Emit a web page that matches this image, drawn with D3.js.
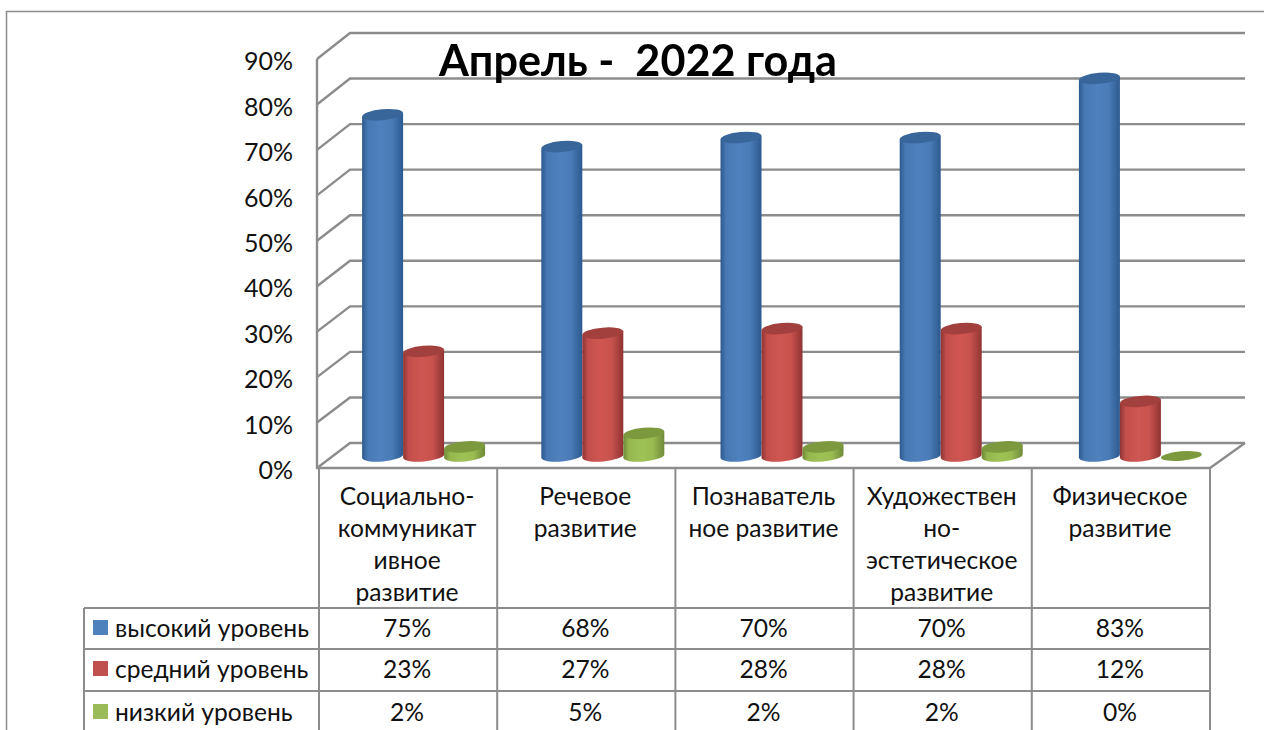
<!DOCTYPE html>
<html><head><meta charset="utf-8">
<script src="https://d3js.org/d3.v7.min.js"></script>
<style>html,body{margin:0;padding:0;background:#fff;overflow:hidden}
text{font-family:Lato,"Noto Sans",sans-serif;fill:#111}</style></head>
<body><div id="c"></div>
<script>
const titleText = "Апрель -  2022 года";
const categories = ["Социально-коммуникативное развитие","Речевое развитие","Познавательное развитие","Художественно-эстетическое развитие","Физическое развитие"];
const categoryLines = [["Социально-","коммуникат","ивное","развитие"],["Речевое","развитие"],["Познаватель","ное развитие"],["Художествен","но-","эстетическое","развитие"],["Физическое","развитие"]];
const seriesNames = ["высокий уровень","средний уровень","низкий уровень"];
const high = [75,68,70,70,83];
const mid = [23,27,28,28,12];
const low = [2,5,2,2,0];
const seriesValues = [high,mid,low];
const sideDark = ["#2c5a8f","#8f3432","#6f8a38"];
const sideLight = ["#4f81bd","#cf5652","#9fc255"];
const topFill = ["#37659a","#a23f3c","#7b9a3c"];
const legendFill = ["#4f81bd","#c0504d","#9bbb59"];
const ticks = [0,10,20,30,40,50,60,70,80,90];

const W=1264,H=730;
const svg=d3.select("#c").append("svg").attr("width",W).attr("height",H).style("display","block");
const defs=svg.append("defs");
defs.append("filter").attr("id","soft").attr("x","-5%").attr("y","-5%").attr("width","110%").attr("height","110%")
  .append("feGaussianBlur").attr("stdDeviation",0.6);
seriesNames.forEach((s,i)=>{
  const g=defs.append("linearGradient").attr("id","g"+i);
  [[0,sideDark[i]],[0.14,d3.interpolateRgb(sideDark[i],sideLight[i])(0.8)],[0.45,sideLight[i]],[0.72,d3.interpolateRgb(sideDark[i],sideLight[i])(0.88)],[1,sideDark[i]]]
   .forEach(([o,c])=>g.append("stop").attr("offset",o).attr("stop-color",c));
});

// frame
const gray="#8c8c8c";
svg.append("path").attr("d",`M6.5,${H}V11.5H${W}`).attr("fill","none").attr("stroke",gray).attr("stroke-width",1.5);

// scales
const yFront=d3.scaleLinear().domain([0,90]).range([468,59]);
const yBack=d3.scaleLinear().domain([0,90]).range([443,33]);
const yBar=d3.scaleLinear().domain([0,90]).range([456,46.5]);
const xWall={frontL:317,backL:350,backR:1245,frontR:1210};
const xGroup=d3.scaleBand().domain(categories).range([334,1230]);
const xSeries=d3.scaleBand().domain(seriesNames).range([-61.5,61.5]);
const xCol=d3.scaleBand().domain(categories).range([319,1210]);

// walls & gridlines
const grid=svg.append("g").attr("fill","none").attr("stroke",gray).attr("stroke-width",2.4).attr("filter","url(#soft)");
grid.selectAll("path.t").data(ticks).join("path").attr("class","t")
  .attr("d",t=>`M${xWall.frontL},${yFront(t)}L${xWall.backL},${yBack(t)}H${xWall.backR}`);
grid.append("path").attr("d",`M${xWall.frontL},${yFront(90)}V${yFront(0)}H${xWall.frontR}L${xWall.backR},${yBack(0)}`);

// y axis
const axis=svg.append("g").attr("transform","translate(293,0)")
  .call(d3.axisLeft(yFront).tickValues(ticks).tickSize(0).tickPadding(0).tickFormat(d=>d+"%"));
axis.select(".domain").remove();
axis.selectAll("text").style("font-family",'Lato,"Noto Sans",sans-serif').style("font-size","25px").attr("fill","#111").attr("dy","0.43em");

// cylinders
const rx=xSeries.bandwidth()/2, ry=5.5, tilt=-5, slope=Math.tan(tilt*Math.PI/180);
const bars=svg.append("g").attr("filter","url(#soft)");
categories.forEach((c,ci)=>{
  seriesNames.forEach((s,si)=>{
    const v=seriesValues[si][ci];
    const cx=xGroup(c)+xGroup.bandwidth()/2+xSeries(s)+rx;
    const yT=yBar(v), yB=yBar(0);
    const dy=rx*slope;
    if(v>0){
      bars.append("path").attr("fill",`url(#g${si})`)
       .attr("d",`M${cx-rx},${yT-dy}L${cx-rx},${yB-dy}A${rx},${ry} ${tilt} 0 0 ${cx+rx},${yB+dy}L${cx+rx},${yT+dy}Z`);
    }
    bars.append("ellipse").attr("cx",cx).attr("cy",yT).attr("rx",rx).attr("ry",v>0?ry:ry*0.85)
      .attr("transform",`rotate(${tilt} ${cx} ${yT})`).attr("fill",topFill[si]);
  });
});

// title
svg.append("text").attr("x",439).attr("y",76).attr("xml:space","preserve").style("white-space","pre")
  .attr("font-size",43.2).attr("font-weight",700).attr("fill","#000").style("fill","#000").text(titleText);

// data table
const rowLines=[608,649,691];
const rowText=[628,669,712];
const table=svg.append("g").attr("fill","none").attr("stroke",gray).attr("stroke-width",2).attr("filter","url(#soft)");
const colEdges=categories.map(c=>xCol(c)).concat([xCol.range()[1]]);
table.selectAll("line.v").data(colEdges).join("line").attr("class","v")
  .attr("x1",d=>d).attr("x2",d=>d).attr("y1",469).attr("y2",H);
table.selectAll("line.h").data(rowLines).join("line").attr("class","h")
  .attr("x1",84).attr("x2",1210).attr("y1",d=>d).attr("y2",d=>d);
table.append("line").attr("x1",84).attr("x2",84).attr("y1",608).attr("y2",H);

const fs=24.6;
categories.forEach((c,i)=>{
  const cx=xCol(c)+xCol.bandwidth()/2;
  categoryLines[i].forEach((l,j)=>{
    svg.append("text").attr("x",cx-1).attr("y",496+32*j).attr("dy","0.36em").attr("text-anchor","middle").attr("font-size",fs).text(l);
  });
  seriesNames.forEach((s,si)=>{
    svg.append("text").attr("x",cx-1).attr("y",rowText[si]).attr("dy","0.36em").attr("text-anchor","middle").attr("font-size",fs).text(seriesValues[si][i]+"%");
  });
});
seriesNames.forEach((s,si)=>{
  svg.append("rect").attr("x",93).attr("y",rowText[si]-8).attr("width",15).attr("height",15).attr("fill",legendFill[si]);
  svg.append("text").attr("x",115).attr("y",rowText[si]).attr("dy","0.36em").attr("font-size",fs).text(s);
});
</script></body></html>
